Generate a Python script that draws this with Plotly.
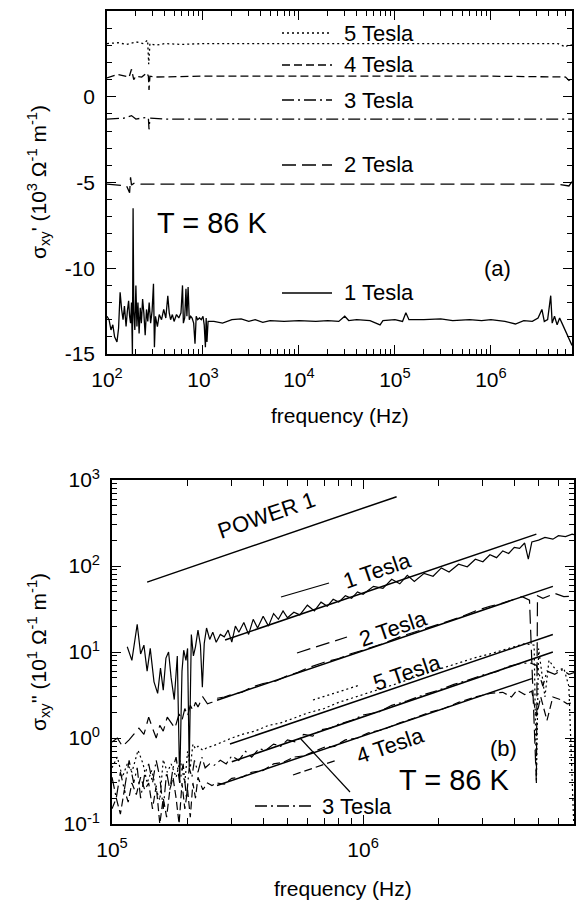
import math
import plotly.graph_objects as go

# the page body has an 8px margin, so the figure is drawn 8px in from the top-left corner
OFF = 8
W, H = 585 - OFF, 903 - OFF
FONT = "Liberation Sans, Arial, sans-serif"

# ---------------- panel (a): sigma_xy' (10^3 / ohm m) vs frequency ----------------
freq_a_1T = [100, 105, 110, 115, 120, 127, 132, 137, 142, 147, 152, 158, 163, 168, 172, 176,
             180, 184, 187, 190, 195, 200, 205, 210, 216, 222, 228, 235, 242, 250, 258, 266,
             275, 285, 295, 305, 312, 320, 335, 350, 370, 390, 410, 430, 445, 460, 480, 500,
             530, 560, 590, 612, 625, 645, 665, 680, 700, 720, 745, 770, 800, 826, 850, 880,
             920, 960, 1000, 1030, 1060, 1080, 1100, 1130, 1300, 1600, 2000, 2500, 3000, 3500,
             4200, 5000, 7000, 1e4, 1.5e4, 2e4, 2.6e4, 3e4, 3.3e4, 4e4, 5.5e4, 7e4, 7.5e4, 1e5,
             1.2e5, 1.3e5, 1.4e5, 2e5, 3e5, 4e5, 6e5, 8e5, 1e6, 1.4e6, 1.8e6, 2.2e6, 2.7e6,
             3.1e6, 3.4e6, 3.6e6, 3.9e6, 4.2e6, 4.35e6, 4.6e6, 4.9e6, 5.2e6, 5.5e6, 5.8e6,
             6.2e6, 6.6e6, 7.0e6]
sig_a_1T = [-12.8, -13.0, -13.6, -13.3, -14.0, -14.3, -13.5, -11.4, -12.4, -13.0, -12.2, -13.4,
            -12.5, -11.9, -12.8, -13.2, -12.0, -15.0, -6.5, -12.5, -13.6, -11.0, -13.4, -12.0,
            -13.8, -12.3, -13.2, -11.8, -12.6, -13.9, -12.4, -13.1, -12.0, -13.2, -12.5, -10.9,
            -14.6, -12.8, -13.4, -12.7, -13.0, -12.4, -12.9, -11.6, -12.6, -13.0, -12.7, -13.1,
            -12.7, -12.9, -12.6, -11.0, -13.2, -12.9, -11.2, -12.8, -11.1, -13.0, -12.8, -12.9,
            -13.2, -14.4, -12.8, -13.0, -12.9, -13.0, -12.8, -13.3, -14.6, -12.9, -14.3, -13.1,
            -13.1, -13.2, -13.0, -12.95, -13.1, -13.0, -13.15, -13.05, -13.1, -13.05, -13.1,
            -13.05, -13.1, -12.8, -13.05, -13.0, -13.05, -13.3, -13.05, -13.0, -13.1, -12.6,
            -13.0, -13.0, -12.95, -13.05, -13.0, -13.05, -13.0, -13.1, -13.25, -13.05, -13.1,
            -12.9, -12.4, -13.1, -13.0, -11.6, -13.2, -12.8, -13.3, -12.9, -13.2, -13.5, -13.8,
            -14.2, -14.5]

freq_a_2T = [100, 130, 160, 172, 176, 180, 190, 230, 300, 1e3, 1e4, 1e5, 1e6, 5e6, 6.5e6, 7e6]
sig_a_2T = [-5.1, -5.15, -5.2, -5.6, -4.7, -5.15, -5.05, -5.1, -5.1, -5.1, -5.1, -5.1, -5.1,
            -5.1, -5.2, -4.95]

freq_a_3T = [100, 150, 180, 200, 260, 270, 274, 280, 400, 1e3, 1e4, 1e5, 1e6, 7e6]
sig_a_3T = [-1.3, -1.25, -1.1, -1.3, -1.2, -1.25, -1.9, -1.25, -1.3, -1.3, -1.3, -1.3, -1.3, -1.3]

freq_a_4T = [100, 130, 170, 180, 190, 200, 230, 260, 270, 274, 280, 320, 1e3, 1e4, 1e5, 1e6,
             6e6, 6.5e6, 7e6]
sig_a_4T = [1.1, 1.3, 1.15, 1.6, 1.0, 1.2, 1.15, 1.4, 1.2, 0.4, 1.2, 1.15, 1.2, 1.2, 1.2, 1.2,
            1.15, 0.95, 1.1]

freq_a_5T = [100, 130, 160, 200, 240, 265, 272, 280, 320, 400, 600, 1e3, 1e4, 1e5, 1e6, 5e6,
             6e6, 6.5e6, 7e6]
sig_a_5T = [3.1, 3.15, 3.05, 3.2, 3.1, 3.3, 1.9, 3.1, 3.0, 3.1, 3.05, 3.1, 3.1, 3.1, 3.1, 3.1,
            2.9, 3.05, 3.0]

# ---------------- panel (b): sigma_xy'' (10^1 / ohm m) vs frequency ----------------
freq_b_1T = [1.15e5, 1.2e5, 1.26e5, 1.3e5, 1.34e5, 1.38e5, 1.42e5, 1.47e5, 1.52e5, 1.56e5,
             1.6e5, 1.64e5, 1.68e5, 1.72e5, 1.77e5, 1.82e5, 1.86e5, 1.9e5, 1.93e5, 1.97e5,
             2.0e5, 2.03e5, 2.07e5, 2.11e5, 2.15e5, 2.2e5, 2.25e5, 2.29e5, 2.33e5, 2.38e5,
             2.45e5, 2.52e5, 2.6e5, 2.7e5, 2.8e5, 2.9e5, 3.0e5, 3.1e5, 3.2e5, 3.35e5, 3.5e5,
             3.65e5, 3.8e5, 4.0e5, 4.2e5, 4.4e5, 4.6e5, 4.8e5, 5.0e5, 5.3e5, 5.6e5, 6.0e5,
             6.4e5, 6.8e5, 7.2e5, 7.6e5, 8.0e5, 8.5e5, 9.0e5, 9.5e5, 1.0e6, 1.1e6, 1.2e6,
             1.3e6, 1.4e6, 1.5e6, 1.6e6, 1.75e6, 1.9e6, 2.05e6, 2.2e6, 2.4e6, 2.6e6, 2.8e6,
             3.0e6, 3.2e6, 3.4e6, 3.6e6, 3.8e6, 4.0e6, 4.2e6, 4.4e6, 4.55e6, 4.7e6, 5.0e6,
             5.3e6, 5.7e6, 6.0e6, 6.4e6, 6.8e6, 7.0e6]
sig_b_1T = [11.5, 8, 21, 9.5, 12, 6, 11, 4.5, 3.3, 6.5, 3.6, 8.5, 10, 5, 2.8, 9, 0.3, 6, 10.5,
            8, 11, 0.45, 16, 9, 11.5, 18, 12, 3.9, 12.6, 19, 14, 17, 13, 16, 15, 18, 13, 20, 17,
            22, 16, 24, 19, 26, 20, 28, 24, 30, 25, 29, 27, 35, 30, 38, 34, 41, 38, 45, 42, 50,
            47, 58, 55, 70, 62, 78, 66, 82, 76, 95, 85, 105, 98, 120, 112, 135, 125, 150, 140,
            165, 160, 185, 120, 190, 200, 215, 205, 225, 220, 235, 230]

freq_b_2T = [1.0e5, 1.05e5, 1.1e5, 1.17e5, 1.22e5, 1.28e5, 1.34e5, 1.4e5, 1.45e5, 1.5e5,
             1.55e5, 1.6e5, 1.66e5, 1.72e5, 1.78e5, 1.85e5, 1.9e5, 1.95e5, 2.0e5, 2.05e5,
             2.1e5, 2.15e5, 2.2e5, 2.3e5, 2.4e5, 2.5e5, 2.62e5, 2.8e5, 3.0e5, 3.3e5, 3.6e5,
             4.0e5, 4.5e5, 5.0e5, 5.5e5, 6.0e5, 7.0e5, 8.0e5, 9.0e5, 1.0e6, 1.2e6, 1.4e6,
             1.7e6, 2.0e6, 2.4e6, 2.8e6, 3.2e6, 3.6e6, 4.0e6, 4.3e6, 4.6e6, 4.9e6, 4.95e6,
             5.2e6, 5.8e6, 6.3e6, 7.0e6]
sig_b_2T = [0.9, 1.0, 0.8, 0.95, 1.1, 1.3, 1.1, 1.75, 1.3, 1.0, 1.4, 1.2, 1.75, 1.5, 1.3, 1.9,
            1.6, 2.2, 1.8, 2.4, 2.1, 2.6, 2.3, 3.0, 2.5, 2.6, 2.9, 3.0, 3.2, 3.4, 3.9, 4.3, 4.6,
            5.3, 5.8, 6.5, 7.6, 8.4, 9.6, 10.5, 12.5, 15, 18, 21, 25, 30, 34, 37, 41, 44, 40,
            0.3, 45, 42, 48, 44, 45]

freq_b_3T = [1.0e5, 1.04e5, 1.08e5, 1.12e5, 1.17e5, 1.22e5, 1.26e5, 1.3e5, 1.35e5, 1.4e5,
             1.45e5, 1.5e5, 1.55e5, 1.6e5, 1.65e5, 1.7e5, 1.75e5, 1.8e5, 1.86e5, 1.92e5,
             1.98e5, 2.03e5, 2.08e5, 2.13e5, 2.2e5, 2.28e5, 2.35e5, 2.45e5, 2.55e5, 2.7e5,
             2.85e5, 3.0e5, 3.2e5, 3.4e5, 3.6e5, 3.85e5, 4.1e5, 4.4e5, 4.7e5, 5.0e5, 5.4e5,
             5.8e5, 6.3e5, 6.8e5, 7.4e5, 8.0e5, 9.0e5, 1.0e6, 1.15e6, 1.3e6, 1.5e6, 1.75e6,
             2.0e6, 2.3e6, 2.6e6, 3.0e6, 3.4e6, 3.8e6, 4.2e6, 4.6e6, 4.9e6, 5.2e6, 5.4e6,
             5.8e6, 6.2e6, 6.6e6, 7.0e6]
sig_b_3T = [0.35, 0.2, 0.4, 0.25, 0.55, 0.3, 0.45, 0.2, 0.38, 0.5, 0.3, 0.55, 0.35, 0.15, 0.4,
            0.25, 0.45, 0.6, 0.3, 0.5, 0.2, 0.45, 0.35, 0.55, 0.4, 0.6, 0.45, 0.5, 0.48, 0.55,
            0.5, 0.62, 0.55, 0.7, 0.6, 0.75, 0.72, 0.85, 0.8, 0.95, 0.9, 1.1, 1.05, 1.25, 1.3,
            1.45, 1.6, 1.85, 2.0, 2.4, 2.7, 3.2, 3.6, 4.2, 4.7, 5.4, 5.9, 6.8, 7.3, 7.5, 7.0,
            4.0, 6.0, 5.5, 6.2, 5.5, 5.8]

freq_b_4T = [1.0e5, 1.04e5, 1.08e5, 1.12e5, 1.16e5, 1.2e5, 1.25e5, 1.3e5, 1.35e5, 1.4e5,
             1.45e5, 1.5e5, 1.55e5, 1.6e5, 1.65e5, 1.7e5, 1.75e5, 1.8e5, 1.85e5, 1.9e5,
             1.95e5, 2.0e5, 2.05e5, 2.1e5, 2.15e5, 2.2e5, 2.3e5, 2.4e5, 2.5e5, 2.62e5, 2.8e5,
             3.0e5, 3.3e5, 3.6e5, 4.0e5, 4.4e5, 4.8e5, 5.3e5, 5.8e5, 6.4e5, 7.0e5, 7.7e5,
             8.5e5, 9.5e5, 1.05e6, 1.2e6, 1.4e6, 1.6e6, 1.85e6, 2.1e6, 2.4e6, 2.8e6, 3.2e6,
             3.6e6, 3.9e6, 4.1e6, 4.4e6, 4.7e6, 4.9e6, 5.1e6, 5.4e6, 5.7e6, 6.1e6, 6.5e6, 7.0e6]
sig_b_4T = [0.15, 0.2, 0.13, 0.25, 0.18, 0.3, 0.22, 0.35, 0.25, 0.3, 0.15, 0.28, 0.1, 0.2,
            0.12, 0.25, 0.35, 0.2, 0.1, 0.3, 0.15, 0.25, 0.12, 0.3, 0.2, 0.35, 0.25, 0.3, 0.28,
            0.3, 0.29, 0.34, 0.35, 0.4, 0.42, 0.5, 0.52, 0.6, 0.62, 0.7, 0.78, 0.8, 0.95, 1.0,
            1.15, 1.25, 1.5, 1.7, 2.0, 2.2, 2.6, 3.0, 3.3, 3.4, 3.0, 3.6, 3.2, 3.5, 1.8, 3.0,
            1.6, 3.0, 2.8, 2.5, 2.6]

freq_b_5T = [1.0e5, 1.05e5, 1.1e5, 1.15e5, 1.2e5, 1.27e5, 1.33e5, 1.38e5, 1.44e5, 1.5e5,
             1.55e5, 1.6e5, 1.66e5, 1.72e5, 1.8e5, 1.87e5, 1.95e5, 2.0e5, 2.05e5, 2.1e5,
             2.15e5, 2.2e5, 2.3e5, 2.4e5, 2.5e5, 2.7e5, 3.0e5, 3.3e5, 3.7e5, 4.2e5, 4.7e5,
             5.3e5, 6.0e5, 7.0e5, 8.0e5, 9.0e5, 1.0e6, 1.2e6, 1.4e6, 1.7e6, 2.0e6, 2.4e6,
             2.8e6, 3.2e6, 3.6e6, 4.0e6, 4.4e6, 4.8e6, 4.9e6, 5.0e6, 5.3e6, 5.5e6, 5.9e6,
             6.3e6, 6.6e6, 6.9e6]
sig_b_5T = [0.45, 0.6, 0.35, 0.5, 0.4, 0.72, 0.5, 0.3, 0.42, 0.25, 0.19, 0.56, 0.4, 0.5, 0.35,
            0.55, 0.3, 0.7, 0.45, 0.85, 0.75, 0.8, 0.72, 0.78, 0.8, 0.88, 1.0, 1.1, 1.2, 1.4,
            1.5, 1.7, 1.95, 2.2, 2.6, 2.9, 3.2, 3.8, 4.4, 5.4, 6.3, 7.4, 8.6, 9.5, 10.5, 11.5,
            12.5, 12, 0.31, 11, 3, 8, 6, 6.5, 4, 0.1]

# straight "power 1" fit lines: start and end points
fit_names = ["POWER 1", "1 Tesla", "2 Tesla", "5 Tesla", "3 Tesla", "4 Tesla"]
fit_f0 = [1.38e5, 2.82e5, 2.62e5, 2.95e5, 3.0e5, 2.62e5]
fit_s0 = [65, 13.8, 2.75, 0.85, 0.53, 0.28]
fit_f1 = [1.36e6, 4.9e6, 5.7e6, 5.7e6, 5.7e6, 4.7e6]
fit_s1 = [640, 235, 58, 16, 10, 4.9]

# axis ticks
ticks_a_x = [1e2, 1e3, 1e4, 1e5, 1e6]
ticks_a_y = [-15, -10, -5, 0]
ticks_a_y_top = [5]
ticks_b_x = [1e5, 1e6]
ticks_b_y = [1e-1, 1e0, 1e1, 1e2, 1e3]

dash = {"1 Tesla": "solid", "2 Tesla": "14px,6px", "3 Tesla": "12px,4px,2px,4px",
        "4 Tesla": "8px,4px", "5 Tesla": "2px,3px"}


def px(x, y):
    # window pixel -> paper fraction
    return (x - OFF) / W, 1 - (y - OFF) / H


def pow_label(v):
    return "10<sup>%d</sup>" % round(math.log10(v))


def log_minor(lo, hi):
    out = []
    for e in range(lo, hi):
        for m in range(2, 10):
            out.append(m * 10.0 ** e)
    return out


fig = go.Figure()

panel_a = [("5 Tesla", freq_a_5T, sig_a_5T), ("4 Tesla", freq_a_4T, sig_a_4T),
           ("3 Tesla", freq_a_3T, sig_a_3T), ("2 Tesla", freq_a_2T, sig_a_2T),
           ("1 Tesla", freq_a_1T, sig_a_1T)]
for name, f, s in panel_a:
    fig.add_trace(go.Scatter(x=f, y=s, mode="lines", name=name, showlegend=False,
                             line=dict(color="black", width=1.3, dash=dash[name]),
                             xaxis="x", yaxis="y"))

panel_b = [("1 Tesla", freq_b_1T, sig_b_1T), ("2 Tesla", freq_b_2T, sig_b_2T),
           ("3 Tesla", freq_b_3T, sig_b_3T), ("4 Tesla", freq_b_4T, sig_b_4T),
           ("5 Tesla", freq_b_5T, sig_b_5T)]
for name, f, s in panel_b:
    fig.add_trace(go.Scatter(x=f, y=s, mode="lines", name=name, showlegend=False,
                             line=dict(color="black", width=1.2, dash=dash[name]),
                             xaxis="x2", yaxis="y2"))

for i in range(len(fit_names)):
    fig.add_trace(go.Scatter(x=[fit_f0[i], fit_f1[i]], y=[fit_s0[i], fit_s1[i]], mode="lines",
                             showlegend=False, line=dict(color="black", width=1.5),
                             xaxis="x2", yaxis="y2"))

axis_common = dict(showline=True, linecolor="black", linewidth=1.6, mirror="allticks",
                   ticks="inside", tickcolor="black", ticklen=9, tickwidth=1.3,
                   showgrid=False, zeroline=False, automargin=False, ticklabelstandoff=6,
                   ticklabeloverflow="allow",
                   tickfont=dict(family=FONT, size=21, color="black"))


def minor(vals, n=5):
    return dict(ticks="inside", ticklen=n, tickcolor="black", tickwidth=1.1, showgrid=False,
                tickmode="array", tickvals=vals)


def dom_x(a, b):
    return [(a - OFF) / W, (b - OFF) / W]


def dom_y(top, bottom):
    return [1 - (bottom - OFF) / H, 1 - (top - OFF) / H]


fig.update_layout(
    width=W, height=H, margin=dict(l=0, r=0, t=0, b=0, autoexpand=False),
    paper_bgcolor="white", plot_bgcolor="white",
    font=dict(family=FONT, size=21, color="black"),
    xaxis=dict(type="log", range=[2, 6.845], domain=dom_x(107, 572), anchor="y",
               tickmode="array", tickvals=ticks_a_x, ticktext=[pow_label(v) for v in ticks_a_x],
               minor=minor(log_minor(2, 7)), **axis_common),
    yaxis=dict(range=[-15, 5], domain=dom_y(11, 354), anchor="x",
               tickmode="array", tickvals=ticks_a_y + ticks_a_y_top,
               ticktext=[str(v) for v in ticks_a_y] + [""],
               minor=minor(list(range(-15, 6))), **axis_common),
    # the top "5" label sits on its own overlay axis, nudged down so it stays on the page
    yaxis3=dict(range=[-15, 5], overlaying="y", anchor="x", side="left", showline=False,
                ticks="", showgrid=False, zeroline=False, automargin=False,
                tickmode="array", tickvals=ticks_a_y_top,
                ticktext=[str(v) for v in ticks_a_y_top], ticklabelstandoff=6,
                ticklabelshift=7, ticklabeloverflow="allow",
                tickfont=dict(family=FONT, size=21, color="black")),
    xaxis2=dict(type="log", range=[5, 6.84], domain=dom_x(112, 574), anchor="y2",
                tickmode="array", tickvals=ticks_b_x, ticktext=[pow_label(v) for v in ticks_b_x],
                minor=minor(log_minor(5, 7), 6), **axis_common),
    yaxis2=dict(type="log", range=[-1, 3], domain=dom_y(480, 824), anchor="x2",
                tickmode="array", tickvals=ticks_b_y, ticktext=[pow_label(v) for v in ticks_b_y],
                minor=minor(log_minor(-1, 3)), **axis_common),
)

ann = []


def text(x, y, s, size=21, angle=0, xanchor="center"):
    ax, ay = px(x, y)
    ann.append(dict(x=ax, y=ay, xref="paper", yref="paper", text=s, showarrow=False,
                    textangle=angle, xanchor=xanchor, yanchor="middle",
                    font=dict(family=FONT, size=size, color="black")))


shapes = []


def seg(x0, y0, x1, y1, d="solid", w=1.3):
    a0, b0 = px(x0, y0)
    a1, b1 = px(x1, y1)
    shapes.append(dict(type="line", xref="paper", yref="paper", x0=a0, y0=b0, x1=a1, y1=b1,
                       line=dict(color="black", width=w, dash=d)))


# panel (a) labels
for name, ly in [("5 Tesla", 33), ("4 Tesla", 65), ("3 Tesla", 100), ("2 Tesla", 165),
                 ("1 Tesla", 293)]:
    seg(282, ly, 332, ly, dash[name])
    text(342, ly, name, size=22, xanchor="left")
text(212, 223, "T = 86 K", size=29)
text(497, 268, "(a)", size=22)
text(38, 182, "σ<sub>xy</sub>' (10<sup>3</sup> Ω<sup>-1</sup> m<sup>-1</sup>)", angle=-90)
text(340, 416, "frequency (Hz)")

# panel (b) labels
text(266, 516, "POWER 1", size=22, angle=-19)
seg(281, 597, 329, 583, dash["1 Tesla"])
text(377, 570, "1 Tesla", size=22, angle=-19)
seg(297, 653, 347, 637, dash["2 Tesla"])
text(393, 628, "2 Tesla", size=22, angle=-19)
seg(313, 700, 360, 685, dash["5 Tesla"])
text(407, 672, "5 Tesla", size=22, angle=-19)
seg(293, 775, 337, 760, dash["4 Tesla"])
text(390, 745, "4 Tesla", size=22, angle=-19)
seg(255, 806, 313, 806, dash["3 Tesla"])
text(320, 806, "3 Tesla", size=22, xanchor="left")
seg(350, 792, 300, 738, "solid", 1.2)
text(503, 748, "(b)", size=22)
text(454, 780, "T = 86 K", size=29)
text(38, 652, "σ<sub>xy</sub>'' (10<sup>1</sup> Ω<sup>-1</sup> m<sup>-1</sup>)", angle=-90)
text(343, 888, "frequency (Hz)")

fig.update_layout(annotations=ann, shapes=shapes)
fig.write_html("out.html")
